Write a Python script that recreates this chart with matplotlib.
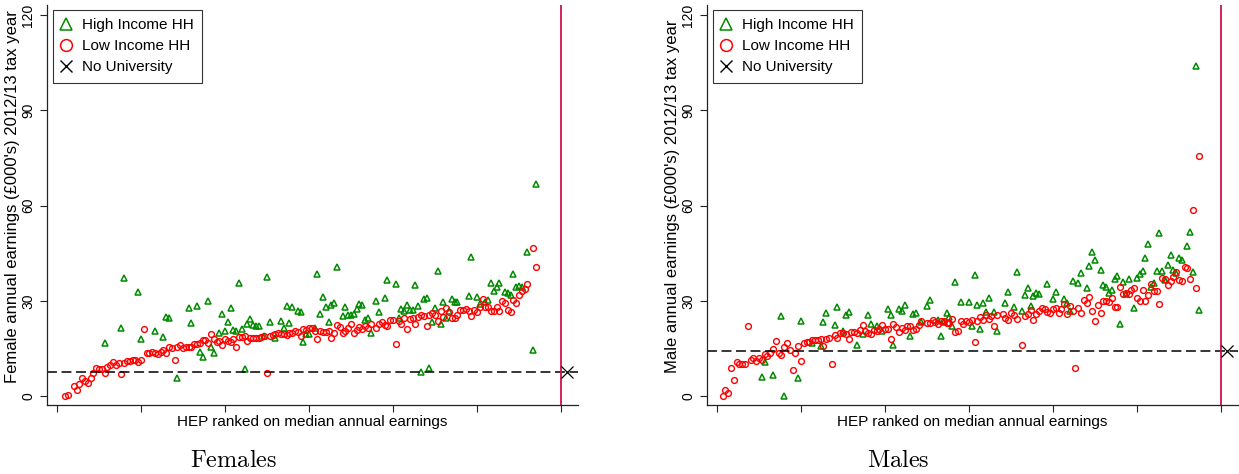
import matplotlib.pyplot as plt
import numpy as np
from matplotlib.lines import Line2D

nan = np.nan

# ---- Females: low income HH earnings by HEP rank (first value is rank 3) ----
female_low_start = 3
female_low = [
    0.0, 0.2, nan, 3.2, 1.9, 3.8, 5.8, 4.7, 4.0, 5.6,
    7.1, 8.7, 8.4, 8.6, 7.1, 9.2, 9.7, 10.6, 9.8, 10.5,
    6.9, 10.5, 10.9, 11.0, 11.3, 11.3, 10.6, 11.3, 21.0, 13.7,
    13.4, 13.8, 13.4, 13.1, 14.0, 14.5, 13.7, 15.3, 15.2, 11.2,
    15.5, 16.0, 15.0, 15.3, 15.5, 15.3, 16.4, 16.3, 16.8, 17.6,
    17.6, 16.6, 19.4, 18.0, 16.9, 17.3, 16.0, 18.0, 17.3, 17.0,
    18.1, 15.3, 18.5, 18.5, 19.0, 17.2, 18.2, 18.4, 18.4, 18.4,
    18.7, 18.9, 7.1, 18.9, 19.2, 19.4, 19.7, 19.5, 19.6, 19.1,
    19.7, 20.0, 20.5, 20.2, 19.0, 21.2, 20.7, 21.5, 21.5, 20.6,
    18.0, 20.6, 20.3, 20.1, 20.6, 18.2, 19.7, 22.4, 21.8, 20.0,
    20.6, 21.3, 22.7, 20.0, 20.7, 21.6, 21.0, 22.2, 21.5, 22.6,
    nan, 21.3, 22.6, 23.2, 22.4, 22.2, 23.9, 23.9, 16.5, 23.5,
    22.7, 24.7, 21.1, 24.4, 24.7, 22.6, 25.0, 25.5, 25.3, 21.9,
    25.4, 26.3, 25.5, 23.7, 26.8, 24.9, 27.8, 26.6, 24.6, 24.5,
    25.4, 27.0, 27.0, 27.3, 26.8, 25.2, 27.0, 26.6, 27.9, 30.5,
    28.0, 27.9, 26.9, 26.9, 28.0, 26.9, 29.9, 29.2, 27.0, 26.6,
    30.2, 29.4, 31.7, 33.1, 33.6, 35.2, nan, 46.7, 40.6,
]

# Females: high income HH
female_high_rank = [
    17, 23, 24, 29, 30, 35, 38, 39, 40, 43, 47, 48, 50, 51, 52, 54, 55, 56, 58, 59,
    60, 61, 62, 63, 64, 65, 66, 67, 68, 69, 70, 71, 72, 74, 75, 76, 78, 80, 81, 82,
    83, 84, 86, 87, 88, 89, 90, 92, 93, 94, 95, 96, 97, 98, 99, 100, 102, 103, 104, 105,
    106, 107, 108, 109, 110, 111, 112, 114, 115, 117, 118, 121, 122, 123, 124, 125, 126, 127, 128, 129,
    130, 131, 132, 133, 134, 135, 136, 137, 138, 139, 140, 141, 142, 143, 147, 148, 150, 151, 153, 154,
    155, 156, 157, 158, 160, 161, 162, 163, 164, 165, 166, 168, 170, 171,
]
female_high = [
    16.6, 21.5, 37.1, 32.7, 17.9, 20.6, 18.6, 25.0, 24.7, 5.8, 27.8, 23.0, 28.4, 13.8, 12.2, 29.8, 15.5, 13.7, 19.7, 25.7,
    20.6, 23.2, 27.6, 20.8, 20.5, 35.6, 21.0, 8.5, 22.8, 24.2, 22.4, 22.2, 22.2, 19.0, 37.4, 23.2, 18.4, 23.7, 21.5, 28.2,
    23.1, 28.1, 26.9, 26.5, 17.1, 19.6, 19.6, 21.3, 38.4, 25.8, 31.2, 28.0, 23.2, 28.8, 29.2, 40.6, 25.3, 28.0, 25.5, 25.5,
    25.7, 27.4, 29.0, 28.8, 23.8, 24.6, 20.0, 29.9, 26.6, 30.8, 36.5, 35.3, 24.5, 27.3, 26.8, 28.7, 27.1, 27.1, 34.9, 28.5,
    7.5, 30.6, 31.0, 8.7, 23.4, 27.8, 39.5, 22.7, 29.7, 24.5, 26.8, 30.5, 29.5, 29.5, 31.5, 43.9, 31.3, 29.0, 29.5, 30.3,
    35.7, 33.2, 34.2, 35.5, 32.9, 32.6, 31.8, 38.3, 34.4, 34.7, 34.2, 45.4, 14.5, 66.8,
]
female_no_uni = 7.5

# ---- Males: low income HH earnings by HEP rank (first value is rank 2) ----
male_low_start = 2
male_low = [
    0.0, 1.9, 0.9, 8.9, 5.0, 10.7, 10.0, 10.0, 10.0, 22.2,
    11.2, 12.0, 11.0, 12.0, 11.3, 13.3, 12.5, 13.5, 14.9, 17.3,
    13.4, 12.9, 15.5, 16.8, 14.6, 8.2, 13.5, 15.9, 11.1, 16.6,
    16.9, 17.0, 17.5, 17.6, 17.5, 18.1, 15.9, 18.0, 18.2, 10.0,
    19.2, 18.2, 19.7, 19.7, 19.6, 17.9, 20.1, 20.1, 20.0, 20.9,
    22.4, 20.5, 20.0, 19.4, 20.8, 20.6, 21.0, 22.5, 21.2, 21.0,
    17.9, 22.7, 21.8, 20.3, 21.3, 20.8, 22.2, 22.2, 20.7, 21.1,
    22.4, 23.6, nan, 22.9, 22.9, 23.9, 23.2, 22.6, 23.6, 23.5,
    22.9, 23.0, 24.3, 20.3, 20.6, 23.5, 22.7, 23.7, 23.4, 23.8,
    17.0, 23.5, 24.9, 24.0, 25.4, 24.2, 25.2, 21.9, 25.6, nan,
    25.8, 24.7, 23.8, 26.0, 25.6, 24.3, nan, 16.0, 25.1, 25.7,
    27.0, 24.0, 25.7, 26.9, 27.6, 27.5, 26.5, 26.3, 27.5, 27.8,
    26.0, 27.5, 28.9, 25.8, 28.2, 26.9, 8.8, 27.8, 26.0, 30.3,
    29.2, 31.2, 26.8, 23.6, 28.8, 26.1, 29.8, 29.9, 29.7, 31.0,
    28.1, 28.0, 34.2, 32.1, 32.6, 32.2, 33.4, 33.9, 30.8, 29.9,
    33.3, 29.9, 31.7, 35.2, 33.2, 33.2, 29.0, 37.2, 36.8, 34.9,
    36.2, 37.4, 39.0, 36.5, 36.3, 40.7, 40.4, 37.0, 58.5, 33.9, 75.6,
]

# Males: high income HH
male_high_rank = [
    16, 17, 20, 23, 24, 29, 30, 34, 37, 38, 39, 42, 43, 45, 46, 47, 50, 52, 54, 55,
    57, 59, 61, 62, 63, 65, 66, 67, 69, 70, 71, 73, 75, 76, 79, 80, 81, 82, 83, 84,
    85, 87, 90, 91, 92, 93, 94, 95, 96, 97, 99, 100, 103, 104, 106, 107, 109, 110, 111, 112,
    113, 114, 115, 118, 120, 121, 124, 125, 126, 127, 129, 130, 132, 133, 134, 135, 137, 138, 139, 140,
    141, 142, 143, 144, 145, 146, 147, 149, 150, 151, 152, 153, 154, 155, 156, 157, 158, 159, 160, 161,
    162, 163, 164, 165, 166, 168, 169, 170, 171, 172,
]
male_high = [
    6.1, 10.7, 6.5, 25.1, 0.0, 5.8, 23.5, 16.8, 15.6, 23.4, 26.1, 22.5, 28.0, 20.6, 25.4, 26.6, 16.0, 19.6, 25.5, 22.8,
    22.0, 20.5, 27.3, 25.5, 16.1, 27.3, 26.8, 28.6, 18.8, 25.9, 26.1, 23.4, 28.4, 30.1, 23.9, 19.0, 23.2, 26.0, 25.0, 22.1,
    35.8, 29.7, 29.7, 22.1, 38.1, 28.7, 21.2, 29.2, 26.4, 30.8, 26.6, 20.5, 29.2, 32.9, 27.9, 39.1, 26.9, 31.7, 34.1, 28.4,
    31.6, 32.6, 32.0, 35.3, 30.7, 32.9, 30.5, 29.2, 26.9, 36.2, 35.6, 38.6, 33.9, 40.8, 45.2, 42.8, 39.6, 35.0, 34.4, 32.6,
    33.4, 36.8, 37.9, 22.6, 35.9, 32.1, 36.9, 27.6, 37.3, 38.4, 39.3, 43.6, 47.9, 34.4, 35.5, 39.3, 51.2, 39.5, 36.5, 41.4,
    44.4, 39.7, 38.9, 43.6, 42.8, 47.4, 51.5, 39.1, 104.0, 27.0,
]
male_no_uni = 14.3

no_uni_rank = 182
n_hep = 180
x_ticks = [0, 30, 60, 90, 120, 150, 180]
y_ticks = [0, 30, 60, 90, 120]

GREEN = "#008a00"
RED = "#ff0000"
LINE_RED = "#d0104a"

plt.rcParams["font.family"] = ["Liberation Sans", "DejaVu Sans"]
plt.rcParams["mathtext.fontset"] = "cm"


def panel(ax, low_start, low, high_rank, high, no_uni):
    low_rank = np.arange(len(low)) + low_start
    ax.plot(high_rank, high, linestyle="none", marker="^", ms=4.6,
            mfc="none", mec=GREEN, mew=1.1)
    ax.plot(low_rank, low, linestyle="none", marker="o", ms=4.2,
            mfc="none", mec=RED, mew=1.0)
    ax.axhline(no_uni, color="black", lw=1.1, dashes=(6.5, 3))
    ax.axvline(n_hep, color=LINE_RED, lw=1.3)
    ax.plot([no_uni_rank], [no_uni], linestyle="none", marker="x",
            ms=8, mec="black", mew=0.9)

    ax.set_xlim(-3.6, 186.1)
    ax.set_ylim(-2.83, 123.15)
    ax.set_xticks(x_ticks)
    ax.set_xticklabels([])
    ax.set_yticks(y_ticks)
    ax.tick_params(axis="both", direction="out", length=5, width=0.8,
                   colors="#222222")
    ax.tick_params(axis="y", labelsize=10, pad=8.6, labelcolor="black")
    for lab in ax.get_yticklabels():
        lab.set_rotation(90)
        lab.set_ha("center")
        lab.set_va("center")
    for side in ["top", "right"]:
        ax.spines[side].set_visible(False)
    for side in ["left", "bottom"]:
        ax.spines[side].set_linewidth(0.9)
        ax.spines[side].set_color("#222222")
    ax.set_xlabel("HEP ranked on median annual earnings", fontsize=11,
                  labelpad=-1.6)

    handles = [
        Line2D([], [], linestyle="none", marker="^", ms=9, mfc="none",
               mec=GREEN, mew=1.1),
        Line2D([], [], linestyle="none", marker="o", ms=8.5, mfc="none",
               mec=RED, mew=1.1),
        Line2D([], [], linestyle="none", marker="x", ms=8.5, mec="black",
               mew=1.0),
    ]
    leg = ax.legend(handles, ["High Income HH", "Low Income HH", "No University"],
                    loc="upper left", bbox_to_anchor=(0.0107, 0.9875),
                    borderaxespad=0, fontsize=11, frameon=True, fancybox=False,
                    handlelength=0.65, handletextpad=0.72, borderpad=0.55,
                    labelspacing=0.45)
    leg.get_frame().set_edgecolor("black")
    leg.get_frame().set_linewidth(0.8)


fig = plt.figure(figsize=(12.39, 4.74), dpi=100)
ax1 = fig.add_axes([0.03793, 0.14557, 0.42857, 0.84388])
ax2 = fig.add_axes([0.57062, 0.14557, 0.42857, 0.84388])

panel(ax1, female_low_start, female_low, female_high_rank, female_high,
      female_no_uni)
panel(ax2, male_low_start, male_low, male_high_rank, male_high,
      male_no_uni)

fig.text(12.5 / 1239, (474 - 196.5) / 474,
         "Female annual earnings (£000's) 2012/13 tax year",
         rotation=90, ha="center", va="center", fontsize=12)
fig.text(672.5 / 1239, (474 - 196.5) / 474,
         "Male annual earnings (£000's) 2012/13 tax year",
         rotation=90, ha="center", va="center", fontsize=12)

fig.text(0.1883, 0.0148, r"$\mathrm{Females}$", fontsize=17.5,
         ha="center", va="baseline")
fig.text(0.7248, 0.0148, r"$\mathrm{Males}$", fontsize=17.5,
         ha="center", va="baseline")

fig.savefig("out.png", dpi=100)
